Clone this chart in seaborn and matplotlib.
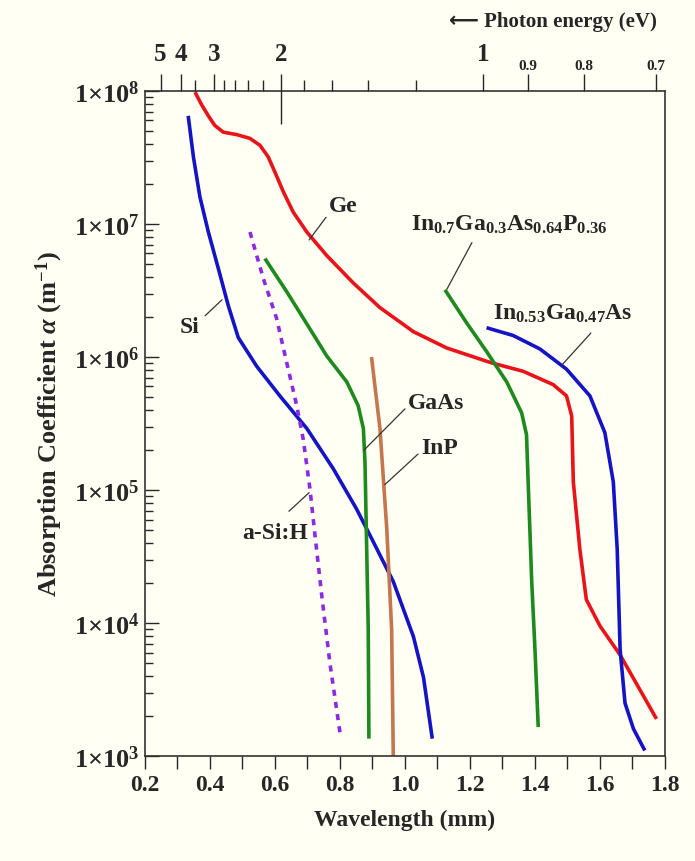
import numpy as np
import pandas as pd
import seaborn as sns
import matplotlib.pyplot as plt
import matplotlib.transforms as mtransforms
from matplotlib.ticker import FixedLocator, LogLocator, MultipleLocator, NullFormatter, FormatStrFormatter

# data: wavelength (um) and absorption coefficient (m^-1)
ge_wl = [0.354, 0.374, 0.395, 0.415, 0.441, 0.482, 0.523, 0.554, 0.579, 0.60, 0.626, 0.656,
         0.698, 0.759, 0.841, 0.923, 1.026, 1.128, 1.262, 1.364, 1.456, 1.497, 1.513, 1.518,
         1.538, 1.558, 1.60, 1.662, 1.774]
ge_alpha = [9.8e7, 7.9e7, 6.5e7, 5.5e7, 4.9e7, 4.7e7, 4.4e7, 3.9e7, 3.2e7, 2.45e7, 1.74e7,
            1.23e7, 8.7e6, 5.8e6, 3.6e6, 2.35e6, 1.55e6, 1.17e6, 9.1e5, 7.8e5, 6.2e5, 5.1e5,
            3.6e5, 1.15e5, 3.6e4, 1.5e4, 9.5e3, 5.75e3, 1.9e3]

si_wl = [0.333, 0.349, 0.369, 0.395, 0.426, 0.456, 0.487, 0.544, 0.615, 0.698, 0.779, 0.851,
         0.902, 0.964, 1.026, 1.057, 1.084]
si_alpha = [6.5e7, 3.2e7, 1.6e7, 8.7e6, 4.6e6, 2.45e6, 1.4e6, 8.5e5, 5.1e5, 2.9e5, 1.45e5,
            7.2e4, 4.1e4, 2.05e4, 7.9e3, 3.9e3, 1.35e3]

asi_wl = [0.523, 0.564, 0.605, 0.636, 0.667, 0.687, 0.708, 0.723, 0.744, 0.769, 0.80]
asi_alpha = [8.7e6, 3.9e6, 1.95e6, 9.1e5, 4.3e5, 2.4e5, 1.0e5, 4.6e4, 1.6e4, 5.0e3, 1.5e3]

gaas_wl = [0.569, 0.636, 0.708, 0.759, 0.821, 0.856, 0.872, 0.877, 0.882, 0.887, 0.889]
gaas_alpha = [5.5e6, 3.1e6, 1.62e6, 1.02e6, 6.5e5, 4.3e5, 2.9e5, 1.6e5, 3.8e4, 8.9e3, 1.35e3]

inp_wl = [0.897, 0.923, 0.944, 0.959, 0.964]
inp_alpha = [1.0e6, 2.9e5, 5.1e4, 8.9e3, 1.0e3]

ingaasp_wl = [1.123, 1.19, 1.251, 1.313, 1.359, 1.374, 1.379, 1.39, 1.40, 1.41]
ingaasp_alpha = [3.2e6, 1.8e6, 1.1e6, 6.5e5, 3.8e5, 2.6e5, 1.15e5, 2.05e4, 6.3e3, 1.65e3]

ingaas_wl = [1.251, 1.333, 1.415, 1.497, 1.569, 1.615, 1.641, 1.653, 1.662, 1.677, 1.703, 1.738]
ingaas_alpha = [1.66e6, 1.45e6, 1.15e6, 8.1e5, 5.1e5, 2.7e5, 1.15e5, 3.6e4, 6.3e3, 2.5e3,
                1.6e3, 1.1e3]

energy_major = [5, 4, 3, 2, 1, 0.9, 0.8, 0.7]
energy_minor = [3.5, 2.8, 2.6, 2.4, 2.2, 1.8, 1.6, 1.4, 1.2]

sns.set_style("ticks")
plt.rcParams["font.family"] = ["Liberation Serif", "DejaVu Serif"]
plt.rcParams["font.weight"] = "bold"
plt.rcParams["mathtext.fontset"] = "custom"
plt.rcParams["mathtext.rm"] = "Liberation Serif:bold"
plt.rcParams["mathtext.bf"] = "Liberation Serif:bold"
plt.rcParams["mathtext.it"] = "Liberation Serif:bold:italic"

bg = "#FFFFF4"
fig = plt.figure(figsize=(6.95, 8.62), dpi=100, facecolor=bg)
ax = fig.add_axes([0.2086, 0.1218, 0.7482, 0.7715], facecolor=bg)

series = [
    (ge_wl, ge_alpha, "#E8141A", "-"),
    (si_wl, si_alpha, "#1414C4", "-"),
    (asi_wl, asi_alpha, "#8A2BE2", (0, (1.7, 1.7))),
    (gaas_wl, gaas_alpha, "#1E8A1E", "-"),
    (inp_wl, inp_alpha, "#C4764E", "-"),
    (ingaasp_wl, ingaasp_alpha, "#1E8A1E", "-"),
    (ingaas_wl, ingaas_alpha, "#1414C4", "-"),
]
for wl, a, c, ls in series:
    df = pd.DataFrame({"wl": wl, "alpha": a})
    sns.lineplot(data=df, x="wl", y="alpha", ax=ax, color=c, lw=2.6, linestyle=ls,
                 sort=False, estimator=None)
for ln in ax.lines:
    ln.set_solid_joinstyle("round")
    ln.set_solid_capstyle("butt")

ax.set_yscale("log")
ax.set_xlim(0.2, 1.8)
ax.set_ylim(1e3, 1e8)

# labels (left edge, log10 y) and leader lines
labels = [
    ("Ge", (0.766, 7.14), (0.757, 7.05), (0.705, 6.88)),
    ("Si", (0.306, 6.23), (0.385, 6.31), (0.437, 6.43)),
    ("a-Si:H", (0.498, 4.68), (0.643, 4.84), (0.705, 4.98)),
    ("GaAs", (1.009, 5.66), (1.0, 5.61), (0.874, 5.30)),
    ("InP", (1.05, 5.32), (1.04, 5.27), (0.938, 5.04)),
    ("In$_{0.7}$Ga$_{0.3}$As$_{0.64}$P$_{0.36}$", (1.02, 7.0), (1.206, 6.86), (1.129, 6.51)),
    ("In$_{0.53}$Ga$_{0.47}$As", (1.27, 6.33), (1.572, 6.18), (1.483, 5.94)),
]
for txt, (tx, ty), (x0, y0), (x1, y1) in labels:
    ax.text(tx, 10 ** ty, txt, ha="left", va="center", fontsize=17, fontweight="bold")
    ax.plot([x0, x1], [10 ** y0, 10 ** y1], color="#333333", lw=0.9)

# bottom and left axes
ax.xaxis.set_major_locator(MultipleLocator(0.2))
ax.xaxis.set_minor_locator(MultipleLocator(0.1))
ax.xaxis.set_major_formatter(FormatStrFormatter("%.1f"))
ax.tick_params(axis="x", which="both", direction="out", length=9, width=1, labelsize=17, pad=4)
ax.tick_params(axis="y", which="major", direction="in", length=10, width=1, labelsize=19, pad=4)
ax.tick_params(axis="y", which="minor", direction="in", length=6, width=1)
ax.set_yticks([10 ** k for k in range(3, 9)])
ax.set_yticklabels([f"$1{{\\times}}10^{{{k}}}$" for k in range(3, 9)])
ax.yaxis.set_minor_locator(LogLocator(base=10, subs=np.arange(2, 10), numticks=20))
ax.yaxis.set_minor_formatter(NullFormatter())
for lab in ax.get_xticklabels():
    lab.set_fontweight("bold")

ax.set_xlabel("Wavelength (mm)", fontsize=17, fontweight="bold", labelpad=10)
ax.set_ylabel("Absorption Coefficient $\\alpha$ (m$^{-1}$)", fontsize=19,
              fontweight="bold", labelpad=6)
for s in ax.spines.values():
    s.set_color("#333333")
    s.set_linewidth(1.2)

# top axis: photon energy
top = ax.twiny()
top.set_xlim(ax.get_xlim())
top.xaxis.set_major_locator(FixedLocator([1.24 / e for e in energy_major]))
top.xaxis.set_minor_locator(FixedLocator([1.24 / e for e in energy_minor]))
top.set_xticklabels([f"{e:g}" for e in energy_major])
top.tick_params(axis="x", which="major", direction="out", length=12, width=1, pad=3)
top.tick_params(axis="x", which="minor", direction="out", length=8, width=1)
for lab, e in zip(top.get_xticklabels(), energy_major):
    lab.set_fontweight("bold")
    lab.set_fontsize(18 if e >= 1 else 11)
    shift = 4 if e >= 1 else -1.5
    lab.set_transform(lab.get_transform() +
                      mtransforms.ScaledTranslation(0, shift / 72, fig.dpi_scale_trans))
for s in top.spines.values():
    s.set_visible(False)

# the 2 eV tick also reaches into the plot
mark = ax.twiny()
mark.set_xlim(ax.get_xlim())
mark.set_xticks([1.24 / 2])
mark.set_xticklabels([])
mark.tick_params(axis="x", direction="in", length=24, width=1)
for s in mark.spines.values():
    s.set_visible(False)

fig.text(0.795, 0.974, "\u27f5 Photon energy (eV)", ha="center", va="center",
         fontsize=15, fontweight="bold", family=["Liberation Serif", "DejaVu Sans"])

plt.savefig("out.png", dpi=100, facecolor=bg)
